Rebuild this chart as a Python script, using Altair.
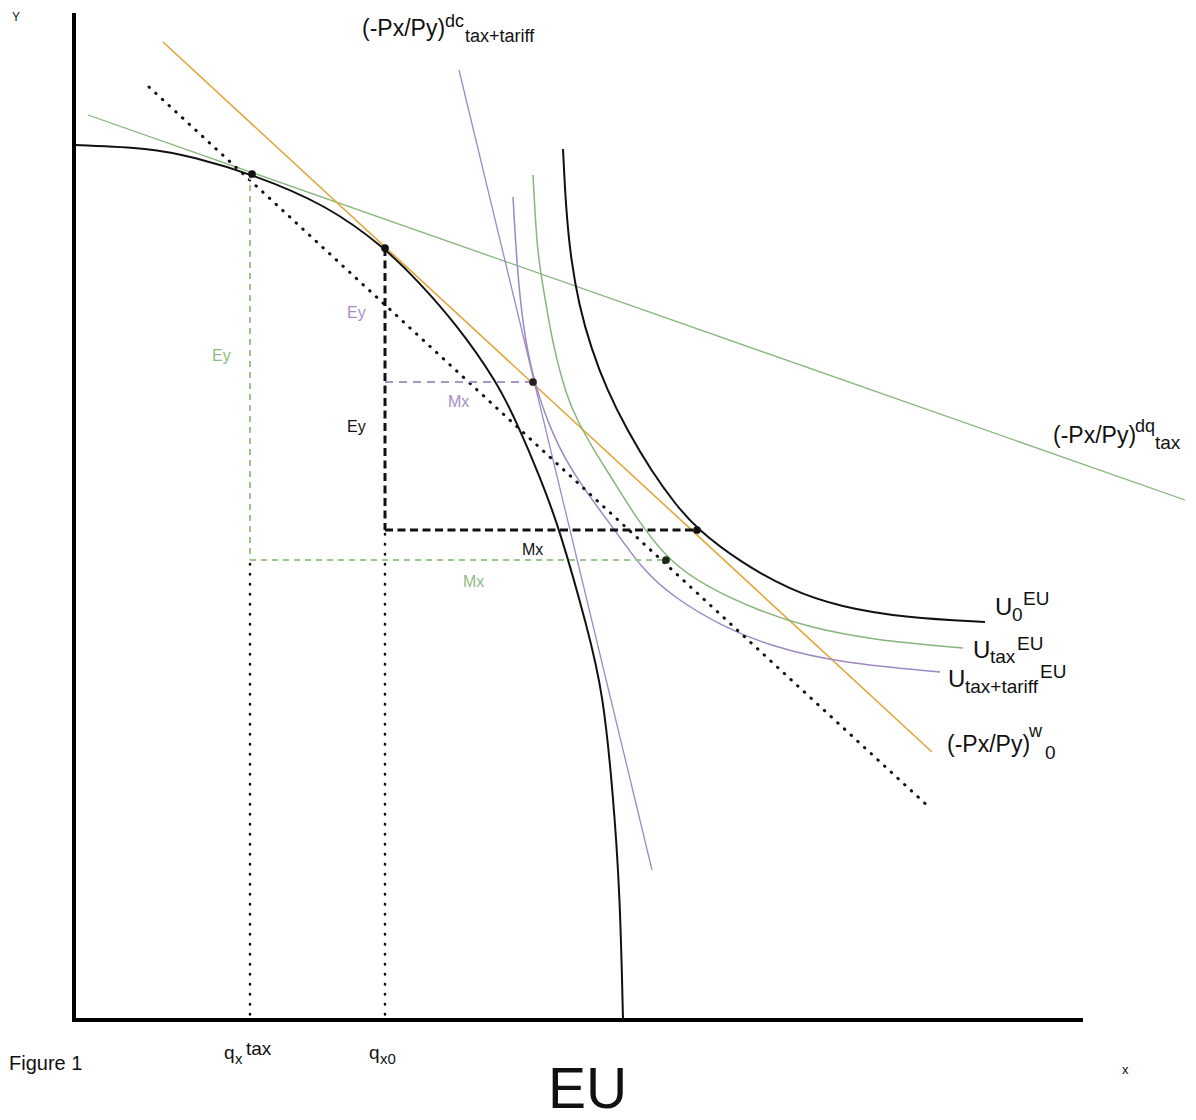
import altair as alt
import pandas as pd

# ---------------- data (page-pixel units) ----------------
# production possibility frontier (black, concave)
PPF_X = [75, 150, 193, 252, 327, 385, 418, 457, 497, 517, 540, 560, 588, 603, 613, 620, 623]
PPF_Y = [145, 148, 157, 174, 205, 248, 281, 325, 382, 423, 477, 530, 630, 693, 793, 893, 1020]

# indifference curves
U0_X = [563, 566, 571, 579, 591, 607, 627, 652, 676, 697, 740, 790, 840, 907, 985]
U0_Y = [149, 210, 260, 305, 348, 390, 430, 472, 505, 529, 562, 590, 607, 618, 622]
UTAX_X = [533, 537, 542, 553, 567, 577, 595, 613, 633, 667, 707, 757, 807, 873, 963]
UTAX_Y = [175, 250, 280, 347, 397, 420, 452, 480, 513, 560, 587, 610, 627, 640, 648]
UTT_X = [513, 517, 523, 533, 553, 577, 617, 643, 673, 723, 773, 840, 940]
UTT_Y = [197, 267, 327, 380, 437, 480, 533, 570, 597, 627, 647, 663, 672]

# straight price lines (start, end)
ORANGE_LINE = [(163, 42), (932, 752)]      # (-Px/Py)^w_0
GREEN_LINE = [(88, 115), (1185, 500)]      # (-Px/Py)^dq_tax
PURPLE_LINE = [(459, 70), (652, 870)]      # (-Px/Py)^dc_tax+tariff
DOTTED_LINE = [(149, 87), (930, 808)]

# axes
Y_AXIS = [(74, 13), (74, 1022)]
X_AXIS = [(72, 1020), (1083, 1020)]

# guide segments
BLACK_DASH = [[(385, 248), (385, 530)], [(385, 530), (697, 530)]]
GREEN_DASH = [[(250, 174), (250, 560)], [(250, 560), (666, 560)]]
PURPLE_DASH = [[(385, 382), (533, 382)]]
DROP_DOTS = [[(385, 534), (385, 1018)], [(250, 564), (250, 1018)]]

# equilibrium points
PT_X = [252, 385, 533, 697, 666]
PT_Y = [174, 248, 382, 530, 560]
PT_C = ["#111111", "#111111", "#222222", "#111111", "#1f2a1c"]

# colours
ORANGE = "#e2a63b"
GREEN = "#86b57c"
PURPLE = "#9d88c3"
GREEN_TXT = "#8cbd7e"
PURPLE_TXT = "#a690c6"

# text pieces: text, x(left), baseline y, size, colour
LBL_TEXT = ["(-Px/Py)", "dc", "tax+tariff",
            "(-Px/Py)", "dq", "tax",
            "U", "0", "EU",
            "U", "tax", "EU",
            "U", "tax+tariff", "EU",
            "(-Px/Py)", "w", "0",
            "Ey", "Ey", "Ey", "Mx", "Mx", "Mx",
            "Y", "x", "Figure 1",
            "q", "x", "tax", "q", "x0", "EU"]
LBL_X = [362, 445, 465,
         1053, 1135, 1155,
         995, 1012, 1023,
         973, 990, 1017,
         948, 965, 1040,
         947, 1029, 1045,
         212, 347, 347, 448, 522, 463,
         12, 1122, 9,
         224, 235, 246, 369, 380, 548]
LBL_Y = [36, 27, 42,
         443, 432, 449,
         615, 621, 605,
         658, 663, 650,
         687, 693, 678,
         752, 737, 759,
         361, 318, 432, 407, 555, 587,
         21, 1074, 1070,
         1059, 1064, 1055, 1059, 1064, 1108]
LBL_S = [23, 18, 18,
         23, 18, 19,
         24, 19, 19,
         24, 19, 19,
         24, 19, 19,
         23, 18, 19,
         16, 16, 16, 16, 16, 16,
         12, 13, 20,
         19, 15, 19, 19, 15, 57]
LBL_C = ["#111111"] * 18 + [GREEN_TXT, PURPLE_TXT, "#111111", PURPLE_TXT, "#111111", GREEN_TXT] \
        + ["#111111"] * 9


# ---------------- helpers ----------------
XS = alt.Scale(domain=[8, 1188], nice=False, zero=False)
YS = alt.Scale(domain=[8, 1112], nice=False, zero=False, reverse=True)


def seg_frame(segments):
    rows = []
    for s, seg in enumerate(segments):
        for o, (px, py) in enumerate(seg):
            rows.append({"seg": s, "ord": o, "x": px, "y": py})
    return pd.DataFrame(rows)


def line_layer(segments, color, width, dash=None, cap="butt", interp="linear"):
    kw = dict(color=color, strokeWidth=width, strokeCap=cap, interpolate=interp)
    if dash is not None:
        kw["strokeDash"] = dash
    return alt.Chart(seg_frame(segments)).mark_line(**kw).encode(
        x=alt.X("x:Q", scale=XS, axis=None),
        y=alt.Y("y:Q", scale=YS, axis=None),
        detail="seg:N",
        order=alt.Order("ord:Q"),
    )


def curve(xs, ys):
    return [list(zip(xs, ys))]


layers = [
    line_layer([GREEN_LINE], GREEN, 1.3),
    line_layer([ORANGE_LINE], ORANGE, 1.6),
    line_layer([PURPLE_LINE], PURPLE, 1.3),
    line_layer(curve(UTAX_X, UTAX_Y), GREEN, 1.5, interp="basis"),
    line_layer(curve(UTT_X, UTT_Y), PURPLE, 1.5, interp="basis"),
    line_layer(curve(U0_X, U0_Y), "#111111", 2, interp="basis"),
    line_layer(curve(PPF_X, PPF_Y), "#111111", 2, interp="basis"),
    line_layer([DOTTED_LINE], "#111111", 3, dash=[0.5, 8.6], cap="round"),
    line_layer(DROP_DOTS, "#111111", 2.6, dash=[0.5, 9.5], cap="round"),
    line_layer(BLACK_DASH, "#111111", 3, dash=[8, 4.5]),
    line_layer(GREEN_DASH, "#9cc58f", 2, dash=[6, 5]),
    line_layer(PURPLE_DASH, "#a897c9", 2, dash=[8, 6]),
    line_layer([Y_AXIS, X_AXIS], "#000000", 4),
]

pts = pd.DataFrame({"x": PT_X, "y": PT_Y, "c": PT_C})
layers.append(
    alt.Chart(pts).mark_circle(size=60, opacity=1).encode(
        x=alt.X("x:Q", scale=XS, axis=None),
        y=alt.Y("y:Q", scale=YS, axis=None),
        color=alt.Color("c:N", scale=None),
    )
)

lbl = pd.DataFrame({"t": LBL_TEXT, "x": LBL_X, "y": LBL_Y, "s": LBL_S, "c": LBL_C})
layers.append(
    alt.Chart(lbl).mark_text(align="left", baseline="alphabetic", font="Liberation Sans").encode(
        x=alt.X("x:Q", scale=XS, axis=None),
        y=alt.Y("y:Q", scale=YS, axis=None),
        text="t:N",
        size=alt.Size("s:Q", scale=None),
        color=alt.Color("c:N", scale=None),
    )
)

chart = alt.layer(*layers).properties(
    width=1180, height=1104, padding=0, autosize="none"
).configure_view(stroke=None)

chart.save("out.html", embed_options={"renderer": "svg", "actions": False})
